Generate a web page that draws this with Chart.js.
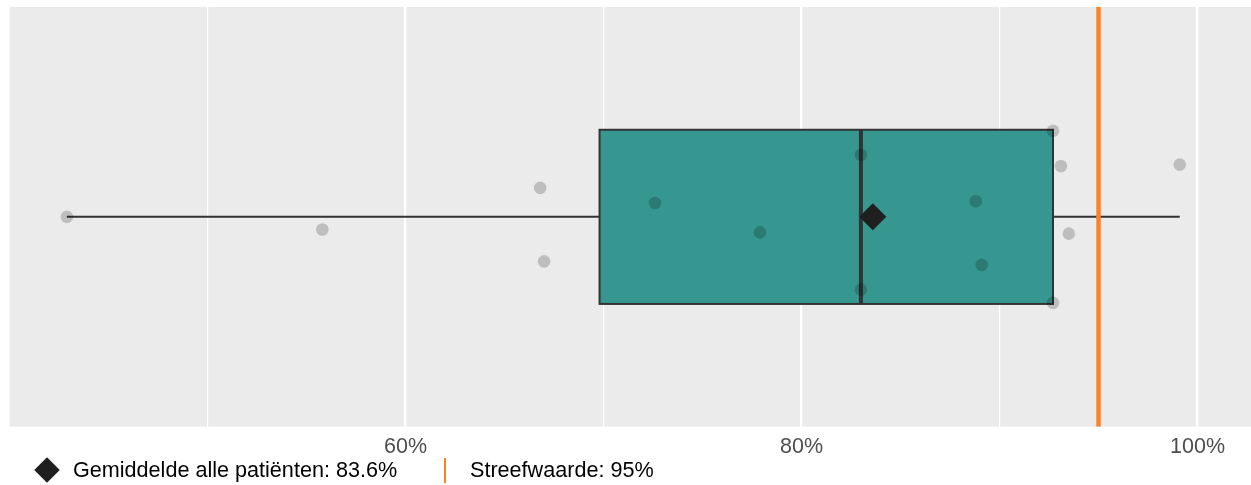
<!DOCTYPE html>
<html>
<head>
<meta charset="utf-8">
<script src="https://cdn.jsdelivr.net/npm/chart.js@4"></script>
<style>
  body { margin: 0; background: #fff; }
  #wrap { position: relative; width: 1251px; height: 485px; font-family: 'Liberation Sans', Arial, sans-serif; }
  .lg-text { position: absolute; top: 457px; font-size: 21.6px; line-height: 26px; color: #000; white-space: nowrap; }
  .lg-diamond { position: absolute; left: 38px; top: 461px; width: 18px; height: 18px; background: #1F1F1F; transform: rotate(45deg); }
  .lg-line { position: absolute; left: 444px; top: 458px; width: 2px; height: 25px; background: #FF8124; }
</style>
</head>
<body>
<div id="wrap">
  <canvas id="boxChart" width="1251" height="485"></canvas>
  <div class="lg-diamond"></div>
  <div class="lg-text" style="left:73px">Gemiddelde alle patiënten: 83.6%</div>
  <div class="lg-line"></div>
  <div class="lg-text" style="left:470px">Streefwaarde: 95%</div>
</div>
<script>
// Waarden per patiëntgroep (percentages) en verticale jitter
const pointValues = [42.9, 55.8, 66.8, 67.0, 72.6, 77.9, 83.0, 83.0, 88.8, 89.1, 92.7, 93.1, 93.5, 92.7, 99.1];
const pointJitter = [0, -0.06, 0.138, -0.212, 0.066, -0.074, 0.296, -0.347, 0.074, -0.229, 0.41, 0.242, -0.08, -0.41, 0.249];
// boxplot: q1, mediaan, q3 en snorharen
const quartiles = [69.8, 83.0, 92.7];
const whiskers = [42.9, 99.1];
const meanValue = 83.6;
const targetValue = 95;
const tickValues = [50, 60, 70, 80, 90, 100];
const tickLabels = ['', '60%', '', '80%', '', '100%'];

// grijze achtergrond van het panel
const panelBg = {
  id: 'panelBg',
  beforeDraw(chart) {
    const a = chart.chartArea;
    const c = chart.ctx;
    c.save();
    c.fillStyle = '#EBEBEB';
    c.fillRect(a.left, a.top, a.right - a.left, a.bottom - a.top);
    c.restore();
  }
};

// boxplot tekenen via de schalen
const boxPlot = {
  id: 'boxPlot',
  beforeDatasetsDraw(chart) {
    const x = chart.scales.x, y = chart.scales.y, c = chart.ctx;
    const yc = y.getPixelForValue(0);
    const yt = y.getPixelForValue(0.415), yb = y.getPixelForValue(-0.415);
    const q1 = x.getPixelForValue(quartiles[0]);
    const med = x.getPixelForValue(quartiles[1]);
    const q3 = x.getPixelForValue(quartiles[2]);
    c.save();
    c.strokeStyle = '#333333';
    c.lineWidth = 2;
    c.beginPath();
    c.moveTo(x.getPixelForValue(whiskers[0]), yc);
    c.lineTo(q1, yc);
    c.moveTo(q3, yc);
    c.lineTo(x.getPixelForValue(whiskers[1]), yc);
    c.stroke();
    c.fillStyle = '#35978F';
    c.fillRect(q1, yt, q3 - q1, yb - yt);
    c.strokeRect(q1, yt, q3 - q1, yb - yt);
    c.lineWidth = 4;
    c.beginPath();
    c.moveTo(med, yt);
    c.lineTo(med, yb);
    c.stroke();
    c.restore();
  }
};

const ctx = document.getElementById('boxChart').getContext('2d');
new Chart(ctx, {
  type: 'scatter',
  data: {
    datasets: [
      {
        label: 'Patiënten',
        data: pointValues.map((v, i) => ({ x: v, y: pointJitter[i] })),
        backgroundColor: 'rgba(0,0,0,0.19)',
        borderWidth: 0,
        pointRadius: 6.3
      },
      {
        label: 'Gemiddelde',
        data: [{ x: meanValue, y: 0 }],
        pointStyle: 'rectRot',
        pointRadius: 13.5,
        backgroundColor: '#1F1F1F',
        borderWidth: 0
      },
      {
        type: 'line',
        label: 'Streefwaarde',
        data: [{ x: targetValue, y: -1 }, { x: targetValue, y: 1 }],
        borderColor: '#FF8124',
        borderWidth: 4.5,
        pointRadius: 0
      }
    ]
  },
  options: {
    responsive: false,
    devicePixelRatio: 1,
    animation: false,
    layout: { autoPadding: false, padding: { left: 9.5, right: 0, top: 7, bottom: 18.5 } },
    plugins: {
      legend: { display: false },
      tooltip: { enabled: false }
    },
    scales: {
      x: {
        type: 'linear',
        min: 40,
        max: 102.7,
        afterBuildTicks: (axis) => { axis.ticks = tickValues.map(v => ({ value: v })); },
        border: { display: false },
        grid: {
          drawTicks: false,
          color: '#FFFFFF',
          lineWidth: (c) => (c.tick && tickLabels[tickValues.indexOf(c.tick.value)] ? 2.2 : 1.2)
        },
        ticks: {
          padding: 7,
          color: '#4D4D4D',
          font: { family: "'Liberation Sans', Arial, sans-serif", size: 21.5 },
          callback: (v) => tickLabels[tickValues.indexOf(v)]
        }
      },
      y: {
        type: 'linear',
        min: -1,
        max: 1,
        display: false
      }
    }
  },
  plugins: [panelBg, boxPlot]
});
</script>
</body>
</html>
